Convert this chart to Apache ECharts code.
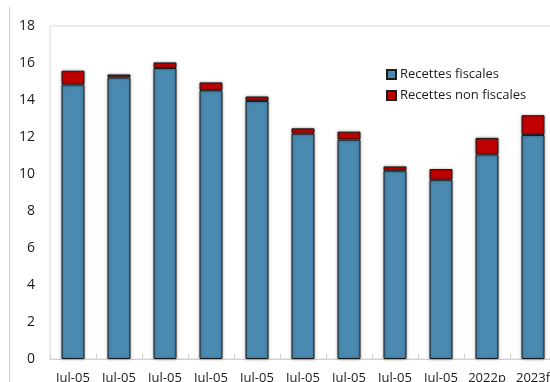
<!DOCTYPE html>
<html>
<head>
<meta charset="utf-8">
<script src="https://cdn.jsdelivr.net/npm/echarts@6/dist/echarts.min.js"></script>
<style>
  html, body { margin: 0; padding: 0; background: #fff; }
  #chart { width: 550px; height: 382px; }
</style>
</head>
<body>
<div id="chart"></div>
<script>
// Category labels along the x axis
const categories = ['Jul-05', 'Jul-05', 'Jul-05', 'Jul-05', 'Jul-05', 'Jul-05', 'Jul-05', 'Jul-05', 'Jul-05', '2022p', '2023f'];
// Tax revenue
const recettesFiscales = [14.84, 15.22, 15.73, 14.53, 13.95, 12.18, 11.86, 10.18, 9.69, 11.06, 12.11];
// Non-tax revenue, stacked on top
const recettesNonFiscales = [0.74, 0.16, 0.30, 0.42, 0.24, 0.29, 0.43, 0.23, 0.58, 0.89, 1.07];
// Y axis range
const yMin = 0, yMax = 18, yStep = 2;

const font = '"Open Sans", "Noto Sans", sans-serif';

const barStyle = (color) => ({
  color: color,
  borderColor: '#1c1c1c',
  borderWidth: 1,
  shadowColor: 'rgba(0,0,0,0.35)',
  shadowBlur: 3
});

const chart = echarts.init(document.getElementById('chart'), null, { renderer: 'canvas' });
chart.setOption({
  animation: false,
  backgroundColor: '#fff',
  textStyle: { fontFamily: font },
  grid: {
    left: 50, top: 26, right: -6, bottom: 23,
    outerBoundsMode: 'none',
    containLabel: false,
    show: true, borderColor: '#d9d9d9', borderWidth: 1, backgroundColor: 'transparent'
  },
  graphic: [{
    type: 'line',
    shape: { x1: 9.5, y1: 7, x2: 9.5, y2: 382 },
    style: { stroke: '#d0d0d0', lineWidth: 1 }
  }],
  legend: {
    orient: 'vertical',
    left: 381, top: 63,
    itemWidth: 9, itemHeight: 9, itemGap: 8,
    icon: 'rect',
    textStyle: { fontFamily: font, fontSize: 13, color: '#1a1a1a', padding: [0, 0, 0, -1] },
    data: ['Recettes fiscales', 'Recettes non fiscales']
  },
  xAxis: {
    type: 'category',
    data: categories,
    axisLine: { show: true, lineStyle: { color: '#d0d0d0' } },
    axisTick: { show: true, inside: true, length: 5, lineStyle: { color: '#d0d0d0' } },
    axisLabel: { fontFamily: font, fontSize: 13, color: '#1a1a1a', margin: 13, interval: 0 }
  },
  yAxis: {
    type: 'value',
    min: yMin, max: yMax, interval: yStep,
    axisLine: { show: false },
    axisTick: { show: false },
    splitLine: { show: false },
    axisLabel: { fontFamily: font, fontSize: 14, color: '#1a1a1a', margin: 15 }
  },
  series: [
    {
      name: 'Recettes fiscales', type: 'bar', stack: 'total',
      data: recettesFiscales, barWidth: 23,
      itemStyle: barStyle('#4a89b0')
    },
    {
      name: 'Recettes non fiscales', type: 'bar', stack: 'total',
      data: recettesNonFiscales, barWidth: 23,
      itemStyle: barStyle('#c00000')
    }
  ]
});
</script>
</body>
</html>
